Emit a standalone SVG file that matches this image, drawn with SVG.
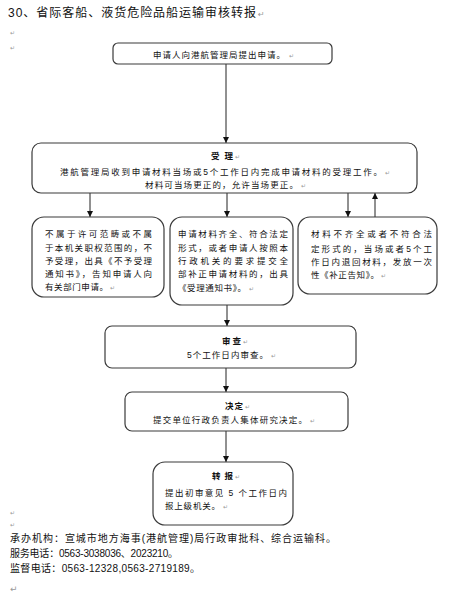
<svg xmlns="http://www.w3.org/2000/svg" width="457" height="600" viewBox="0 0 457 600">
<defs>
<style>
.box{fill:#fff;stroke:#3a3a3a;stroke-width:1.2}
.t{font-family:"Liberation Sans","Noto Sans CJK SC",sans-serif;font-size:8.5px;fill:#111}
.b{font-weight:bold}
.pm{font-family:"DejaVu Sans",sans-serif;font-size:6px;fill:#999}
.ft{font-family:"Liberation Sans","Noto Sans CJK SC",sans-serif;font-size:10px;fill:#111}
.ttl{font-family:"Liberation Sans","Noto Sans CJK SC",sans-serif;font-size:12px;fill:#111}
.c{fill:none;stroke:#222;stroke-width:1}
</style>
<marker id="ah" viewBox="0 0 8 8" refX="8" refY="4" markerWidth="6" markerHeight="6" orient="auto" markerUnits="userSpaceOnUse">
<path d="M0,0 L8,4 L0,8 z" fill="#111"/>
</marker>
</defs>
<rect width="457" height="600" fill="#fff"/>

<text class="ttl" x="8" y="17" textLength="248" lengthAdjust="spacing">30、省际客船、液货危险品船运输审核转报</text>
<text class="pm" x="258" y="17" style="font-size:8px">↵</text>
<text class="pm" x="10" y="35">↵</text>
<text class="pm" x="10" y="50">↵</text>

<g id="connectors">
<line class="c" x1="226" y1="64" x2="226" y2="143" marker-end="url(#ah)"/>
<line class="c" x1="90" y1="193" x2="90" y2="217" marker-end="url(#ah)"/>
<line class="c" x1="227" y1="193" x2="227" y2="217" marker-end="url(#ah)"/>
<line class="c" x1="348" y1="193" x2="348" y2="217" marker-end="url(#ah)"/>
<line class="c" x1="375" y1="217" x2="375" y2="193" marker-end="url(#ah)"/>
<line class="c" x1="227" y1="305" x2="227" y2="326" marker-end="url(#ah)"/>
<line class="c" x1="226" y1="368" x2="226" y2="392" marker-end="url(#ah)"/>
<line class="c" x1="226" y1="431" x2="226" y2="462" marker-end="url(#ah)"/>
</g>

<g id="apply">
<rect class="box" x="113" y="43" width="219" height="21" rx="5"/>
<text class="t" x="153" y="58" textLength="132" lengthAdjust="spacing">申请人向港航管理局提出申请。</text>
<text class="pm" x="289" y="58">↵</text>
</g>

<g id="accept">
<rect class="box" x="32" y="143" width="385" height="50" rx="9"/>
<text class="t b" x="211" y="159" textLength="22" lengthAdjust="spacing">受 理</text>
<text class="pm" x="235" y="159">↵</text>
<text class="t" x="60" y="175" textLength="322" lengthAdjust="spacing">港航管理局收到申请材料当场或5个工作日内完成申请材料的受理工作。</text>
<text class="pm" x="385" y="175">↵</text>
<text class="t" x="145" y="188" textLength="153" lengthAdjust="spacing">材料可当场更正的，允许当场更正。</text>
<text class="pm" x="301" y="188">↵</text>
</g>

<g id="reject">
<rect class="box" x="32" y="217" width="132" height="80" rx="12"/>
<text class="t" x="45" y="237" textLength="107" lengthAdjust="spacing">不属于许可范畴或不属</text>
<text class="t" x="45" y="251" textLength="107" lengthAdjust="spacing">于本机关职权范围的，不</text>
<text class="t" x="45" y="264" textLength="107" lengthAdjust="spacing">予受理，出具《不予受理</text>
<text class="t" x="45" y="277" textLength="107" lengthAdjust="spacing">通知书》，告知申请人向</text>
<text class="t" x="45" y="290" textLength="63" lengthAdjust="spacing">有关部门申请。</text>
<text class="pm" x="110" y="290">↵</text>
</g>

<g id="accepted">
<rect class="box" x="170" y="217" width="123" height="88" rx="12"/>
<text class="t" x="178" y="237" textLength="110" lengthAdjust="spacing">申请材料齐全、符合法定</text>
<text class="t" x="178" y="251" textLength="110" lengthAdjust="spacing">形式，或者申请人按照本</text>
<text class="t" x="178" y="264" textLength="110" lengthAdjust="spacing">行政机关的要求提交全</text>
<text class="t" x="178" y="277" textLength="110" lengthAdjust="spacing">部补正申请材料的，出具</text>
<text class="t" x="178" y="291" textLength="68" lengthAdjust="spacing">《受理通知书》。</text>
<text class="pm" x="249" y="291">↵</text>
</g>

<g id="supplement">
<rect class="box" x="298" y="217" width="139" height="77" rx="12"/>
<text class="t" x="311" y="237" textLength="121" lengthAdjust="spacing">材料不齐全或者不符合法</text>
<text class="t" x="311" y="252" textLength="121" lengthAdjust="spacing">定形式的，当场或者5个工</text>
<text class="t" x="311" y="265" textLength="121" lengthAdjust="spacing">作日内退回材料，发放一次</text>
<text class="t" x="311" y="278" textLength="68" lengthAdjust="spacing">性《补正告知》。</text>
<text class="pm" x="381" y="278">↵</text>
</g>

<g id="review">
<rect class="box" x="105" y="326" width="251" height="42" rx="7"/>
<text class="t b" x="222" y="344" textLength="19" lengthAdjust="spacing">审查</text>
<text class="pm" x="243" y="344">↵</text>
<text class="t" x="187" y="358" textLength="81" lengthAdjust="spacing">5个工作日内审查。</text>
<text class="pm" x="271" y="358">↵</text>
</g>

<g id="decide">
<rect class="box" x="125" y="392" width="223" height="39" rx="7"/>
<text class="t b" x="225" y="409" textLength="18" lengthAdjust="spacing">决定</text>
<text class="pm" x="245" y="409">↵</text>
<text class="t" x="153" y="423" textLength="154" lengthAdjust="spacing">提交单位行政负责人集体研究决定。</text>
<text class="pm" x="310" y="423">↵</text>
</g>

<g id="report">
<rect class="box" x="153" y="462" width="140" height="63" rx="12"/>
<text class="t b" x="212" y="479" textLength="21" lengthAdjust="spacing">转报</text>
<text class="pm" x="235" y="479">↵</text>
<text class="t" x="165" y="496" textLength="122" lengthAdjust="spacing">提出初审意见 5 个工作日内</text>
<text class="t" x="165" y="509" textLength="55" lengthAdjust="spacing">报上级机关。</text>
<text class="pm" x="223" y="509">↵</text>
</g>

<text class="pm" x="10" y="515">↵</text>
<text class="pm" x="10" y="527">↵</text>
<text class="ft" x="10" y="542" textLength="326" lengthAdjust="spacing">承办机构：宣城市地方海事(港航管理)局行政审批科、综合运输科。</text>
<text class="ft" x="10" y="557" textLength="168" lengthAdjust="spacing">服务电话：0563-3038036、2023210。</text>
<text class="ft" x="10" y="572" textLength="190" lengthAdjust="spacing">监督电话：0563-12328,0563-2719189。</text>
<text class="pm" x="10" y="592" style="font-size:9px">↵</text>
</svg>
